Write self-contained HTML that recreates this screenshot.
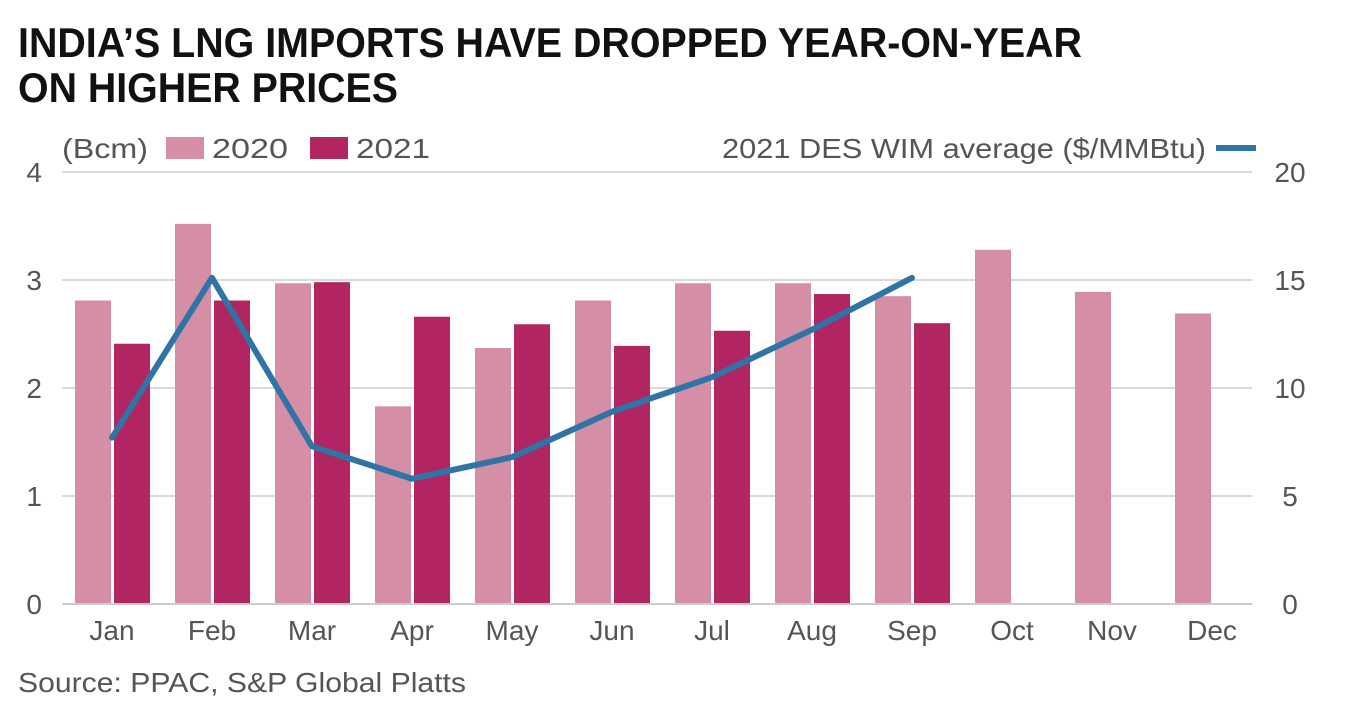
<!DOCTYPE html>
<html><head><meta charset="utf-8"><style>
body{margin:0;background:#fff;}
svg{display:block;font-family:"Liberation Sans",sans-serif;}
</style></head><body>
<svg id="chart" width="1352" height="712">
<text x="18" y="57" font-size="42" font-weight="bold" fill="#111" textLength="1064" lengthAdjust="spacingAndGlyphs">INDIA’S LNG IMPORTS HAVE DROPPED YEAR-ON-YEAR</text>
<text x="18" y="102" font-size="42" font-weight="bold" fill="#111" textLength="380" lengthAdjust="spacingAndGlyphs">ON HIGHER PRICES</text>
<g>
<text x="62" y="158" font-size="28" fill="#555" textLength="86" lengthAdjust="spacingAndGlyphs">(Bcm)</text>
<rect x="166" y="137" width="38" height="22" fill="#d48ea5"></rect>
<text x="212" y="158" font-size="28" fill="#555" textLength="76" lengthAdjust="spacingAndGlyphs">2020</text>
<rect x="310" y="137" width="38" height="22" fill="#b02562"></rect>
<text x="356" y="158" font-size="28" fill="#555" textLength="74" lengthAdjust="spacingAndGlyphs">2021</text>
<text x="722" y="158" font-size="28" fill="#555" textLength="484" lengthAdjust="spacingAndGlyphs">2021 DES WIM average ($/MMBtu)</text>
<line x1="1216" y1="148" x2="1256" y2="148" stroke="#2e75a6" stroke-width="6"></line>
</g>
<g id="grid"></g><g id="bars"></g><g id="line"></g><g id="axes"></g>
<text x="18" y="692" font-size="28" fill="#555" textLength="448" lengthAdjust="spacingAndGlyphs">Source: PPAC, S&amp;P Global Platts</text>
</svg>
<script>
const months=["Jan","Feb","Mar","Apr","May","Jun","Jul","Aug","Sep","Oct","Nov","Dec"];
const v2020=[2.81,3.52,2.97,1.83,2.37,2.81,2.97,2.97,2.85,3.28,2.89,2.69];
const v2021=[2.41,2.81,2.98,2.66,2.59,2.39,2.53,2.87,2.60];
const price=[7.7,15.1,7.3,5.8,6.8,8.9,10.5,12.7,15.1];
const leftTicks=[0,1,2,3,4];
const rightTicks=[0,5,10,15,20];
const NS="http://www.w3.org/2000/svg";
const x0=62,bw=100,yBase=604,yTop=172;
const yL=v=>yBase-(v/4)*(yBase-yTop);
const yR=v=>yBase-(v/20)*(yBase-yTop);
const xc=i=>x0+bw*i+50;
function mk(t,a,p){const e=document.createElementNS(NS,t);for(const k in a)e.setAttribute(k,a[k]);document.getElementById(p).appendChild(e);return e;}
leftTicks.forEach((t,i)=>{
 if(t>0){const g=mk("line",{x1:62,x2:1252,y1:yL(t),y2:yL(t),stroke:"#d9d9d9","stroke-width":2},"grid");
 
 }
 const l=mk("text",{x:42,y:yL(t)+10,"font-size":28,fill:"#555","text-anchor":"end"},"axes");l.textContent=t;
 
 
});
rightTicks.forEach(t=>{
 const l=mk("text",{x:1290,y:yR(t)+10,"font-size":28,fill:"#555","text-anchor":"middle"},"axes");l.textContent=t;
 
 
});
months.forEach((m,i)=>{
 const l=mk("text",{x:xc(i),y:640,"font-size":28,fill:"#555","text-anchor":"middle"},"axes");l.textContent=m;
 
 
});
v2020.forEach((v,i)=>{
 const r=mk("rect",{x:xc(i)-37,y:yL(v),width:36,height:yBase-yL(v),fill:"#d48ea5"},"bars");
 
 
});
v2021.forEach((v,i)=>{
 const r=mk("rect",{x:xc(i)+2,y:yL(v),width:36,height:yBase-yL(v),fill:"#b02562"},"bars");
 
 
});
const ax=mk("line",{x1:62,x2:1252,y1:yBase,y2:yBase,stroke:"#ccc","stroke-width":2},"axes");


const pl=mk("polyline",{points:price.map((v,i)=>xc(i)+","+yR(v)).join(" "),fill:"none",stroke:"#2e75a6","stroke-width":6,"stroke-linejoin":"round","stroke-linecap":"round"},"line");


</script>
</body></html>
